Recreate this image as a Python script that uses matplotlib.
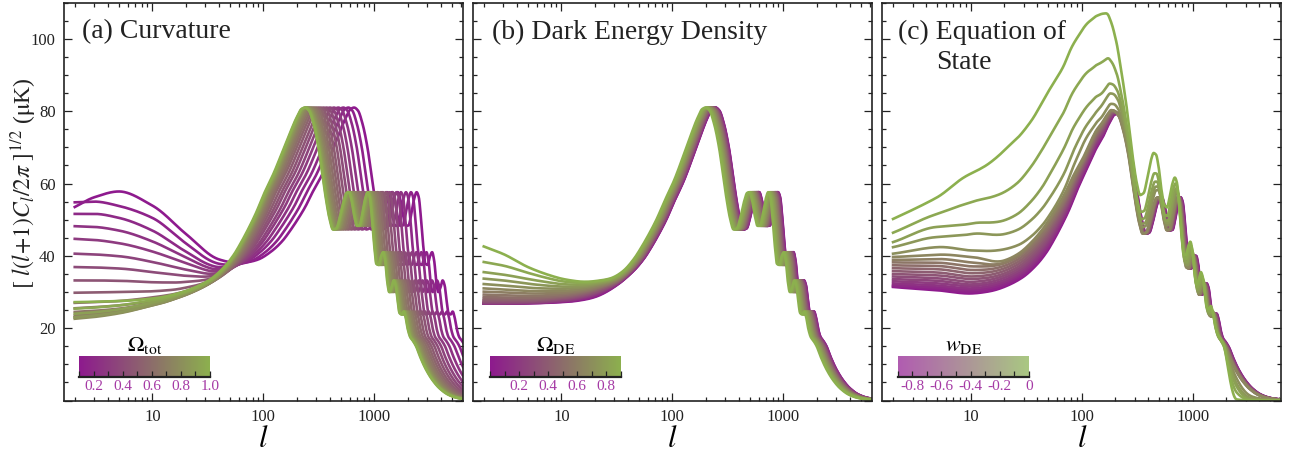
import numpy as np
import matplotlib
matplotlib.use("Agg")
import matplotlib.pyplot as plt
from matplotlib.colors import LinearSegmentedColormap
from matplotlib.ticker import LogLocator, MultipleLocator, FuncFormatter, NullFormatter

plt.rcParams['font.family'] = ['Liberation Serif', 'DejaVu Serif']
plt.rcParams['mathtext.fontset'] = 'stix'

# ---------------- data ----------------
# fiducial flat spectrum (first peak at l = 220), value in muK
template_l = [0.3, 1, 2, 5, 10, 15, 20, 30, 40, 50, 57, 70, 80, 92, 114, 139, 160, 185, 205, 220,
              238, 262, 290, 315, 340, 365, 392, 420, 455, 490, 520, 545, 575, 610, 645, 680, 720,
              765, 805, 840, 880, 925, 965, 1010, 1060, 1110, 1160, 1210, 1260, 1320, 1380, 1440,
              1500, 1560, 1630, 1700, 1770, 1850, 1950, 2050, 2200, 2400, 2700, 3100, 3600, 4300,
              5200, 6500, 9000, 30000]
template_v = [27.0, 27.0, 27.0, 27.2, 27.8, 28.8, 30.0, 32.6, 35.8, 39.3, 42.0, 46.8, 50.3, 54.6, 60.8,
              67.8, 73.0, 78.0, 80.6, 81.0, 80.2, 76.5, 70.0, 62.5, 55.5, 50.3, 47.3, 47.6, 51.0, 55.2,
              57.4, 57.6, 55.5, 51.0, 48.3, 48.4, 51.5, 55.8, 57.6, 56.3, 50.5, 42.5, 37.8, 37.5, 39.8,
              41.0, 38.5, 32.8, 30.0, 31.2, 33.2, 31.8, 27.5, 24.2, 23.8, 24.6, 23.0, 19.8, 17.5, 16.6,
              15.0, 12.0, 8.6, 5.6, 3.3, 1.6, 0.7, 0.28, 0.1, 0.03]

# (a) curvature
omega_tot = [0.10, 0.15, 0.20, 0.25, 0.30, 0.35, 0.40, 0.45, 0.50, 0.55, 0.60, 0.65, 0.70,
             0.75, 0.80, 0.85, 0.90, 0.95, 1.00]
peak_l_a = [658, 585, 527, 475, 434, 400, 372, 348, 327, 310, 295, 282, 271, 262, 255, 249, 244, 240, 238]
nodes_a = [2, 3, 5, 10, 20, 40, 100]
low_a = [
    [53.5, 56.2, 57.8, 53.9, 46.1, 39.0, 39.7],
    [54.8, 55.0, 53.8, 50.5, 43.5, 37.8, 40.6],
    [51.6, 51.6, 50.5, 47.0, 41.2, 36.9, 41.8],
    [48.2, 48.0, 47.0, 44.0, 39.6, 36.3, 42.9],
    [44.7, 44.4, 43.5, 41.2, 38.0, 35.8, 44.1],
    [40.6, 40.4, 39.9, 38.3, 36.2, 35.3, 45.2],
    [36.9, 36.8, 36.5, 35.5, 34.5, 34.9, 46.6],
    [33.2, 33.2, 33.1, 32.7, 32.8, 34.5, 47.7],
    [29.8, 29.9, 30.0, 30.2, 31.2, 34.2, 48.9],
    [27.0, 27.2, 27.5, 28.5, 30.2, 34.0, 50.1],
    [25.5, 25.8, 26.3, 27.5, 29.6, 34.0, 51.1],
    [24.5, 24.8, 25.4, 26.9, 29.4, 34.1, 52.1],
    [23.5, 23.9, 24.7, 26.5, 29.2, 34.2, 53.0],
    [23.0, 23.4, 24.3, 26.3, 29.2, 34.4, 53.8],
    [22.6, 23.1, 24.1, 26.3, 29.3, 34.6, 54.5],
    [23.0, 23.5, 24.4, 26.6, 29.5, 34.8, 55.1],
    [24.0, 24.4, 25.2, 27.1, 29.8, 35.0, 55.7],
    [25.4, 25.7, 26.3, 27.7, 30.0, 35.2, 56.2],
    [27.2, 27.3, 27.5, 28.2, 30.3, 35.5, 56.7],
]

# (b) dark energy density
omega_de = [0.00, 0.05, 0.10, 0.15, 0.20, 0.25, 0.30, 0.35, 0.40, 0.45, 0.50, 0.55, 0.60,
            0.65, 0.70, 0.75, 0.80, 0.85, 0.90]
peak_l_b = [245, 244, 243, 241, 239, 237, 235, 233, 231, 229, 226, 224, 221, 218, 215, 212, 208, 204, 200]
nodes_b = [2, 3, 5, 10, 20, 40, 1000]
low_b = [
    [26.8, 26.8, 26.9, 27.2, 28.6],
    [26.8, 26.8, 26.9, 27.3, 28.8],
    [26.8, 26.8, 26.9, 27.4, 29.0],
    [26.8, 26.8, 27.0, 27.5, 29.2],
    [26.9, 26.9, 27.0, 27.6, 29.4],
    [27.0, 27.0, 27.1, 27.8, 29.6],
    [27.2, 27.2, 27.3, 28.0, 29.8],
    [27.4, 27.4, 27.5, 28.2, 30.0],
    [27.7, 27.7, 27.7, 28.4, 30.3],
    [28.1, 28.0, 28.0, 28.7, 30.5],
    [28.6, 28.5, 28.4, 29.0, 30.8],
    [29.3, 29.1, 28.9, 29.4, 31.0],
    [30.1, 29.9, 29.6, 29.8, 31.3],
    [31.0, 30.7, 30.3, 30.3, 31.6],
    [32.2, 31.8, 31.2, 30.9, 31.9],
    [33.7, 33.2, 32.3, 31.5, 32.2],
    [35.5, 34.8, 33.6, 32.2, 32.5],
    [38.3, 37.3, 35.3, 33.0, 32.8],
    [42.6, 40.5, 36.9, 33.7, 33.0],
]

# (c) equation of state
w_de = [-0.90, -0.85, -0.80, -0.75, -0.70, -0.65, -0.60, -0.55, -0.50, -0.45, -0.40, -0.35,
        -0.30, -0.25, -0.20, -0.15, -0.10, -0.05, 0.00]
scale_c = [0.970, 0.965, 0.960, 0.955, 0.950, 0.945, 0.940, 0.935, 0.930, 0.925, 0.920, 0.915,
           0.910, 0.905, 0.900, 0.890, 0.880, 0.870, 0.860]
peak_h_c = [79.0] * 14 + [79.7, 82.9, 85.8, 94.1, 107.0]
nodes_c = [2, 5, 10, 20, 40, 70, 100, 130, 160, 250, 400, 700, 1000, 1900, 2500, 3500, 6000]
vals_c = [
    [31.4, 30.5, 29.6, 31.4, 37.8, 50.0, 61.0, 68.6, 73.7],
    [31.6, 30.9, 30.0, 31.8, 38.2, 50.4, 61.4, 69.0, 74.0],
    [31.9, 31.3, 30.5, 32.3, 38.7, 50.8, 61.8, 69.4, 74.3],
    [32.4, 31.8, 31.0, 32.8, 39.2, 51.2, 62.2, 69.8, 74.6],
    [33.0, 32.4, 31.6, 33.3, 39.8, 51.7, 62.6, 70.2, 74.9],
    [33.6, 33.1, 32.1, 33.9, 40.4, 52.2, 63.0, 70.6, 75.3],
    [34.3, 33.8, 32.8, 34.5, 41.0, 52.7, 63.4, 71.0, 75.6],
    [35.0, 34.6, 33.6, 35.1, 41.7, 53.2, 63.8, 71.3, 75.9],
    [35.8, 35.4, 34.3, 35.8, 42.4, 53.8, 64.2, 71.7, 76.2],
    [36.6, 36.3, 35.2, 36.5, 43.1, 54.4, 64.6, 72.1, 76.5],
    [37.4, 37.2, 36.1, 37.2, 43.8, 55.0, 65.0, 72.5, 76.8],
    [38.2, 38.1, 37.1, 37.9, 44.5, 55.6, 65.4, 72.9, 77.2],
    [38.9, 39.1, 38.2, 38.1, 45.2, 56.3, 65.8, 73.3, 77.5],
    [39.7, 40.3, 39.7, 38.7, 45.6, 57.0, 66.3, 73.7, 77.8],
    [40.6, 42.4, 41.5, 41.8, 47.0, 58.5, 70.0, 76.0, 79.5, 73.0, 50.5, 56.6, 41.0, 16.0, 6.0, 1.0, 0.1],
    [42.4, 45.2, 46.0, 46.0, 51.6, 63.0, 73.7, 79.0, 82.7, 74.5, 52.0, 57.5, 40.5, 15.6, 4.6, 0.5, 0.05],
    [43.8, 48.0, 48.9, 49.8, 57.2, 70.0, 79.2, 83.5, 85.8, 75.8, 54.0, 58.5, 40.8, 15.4, 3.8, 0.2, 0.02],
    [46.4, 51.6, 54.8, 57.6, 67.3, 80.1, 88.9, 92.3, 94.0, 77.8, 56.8, 60.0, 41.0, 15.2, 2.2, 0.1, 0.01],
    [50.2, 56.2, 62.7, 69.1, 80.1, 93.0, 102.2, 105.9, 107.0, 82.9, 63.0, 61.5, 41.0, 15.5, 0.3, 0.03, 0.005],
]

# ---------------- helpers ----------------
def pchip(x, y, xq):
    x = np.asarray(x, float); y = np.asarray(y, float); xq = np.clip(np.asarray(xq, float), x[0], x[-1])
    h = np.diff(x); d = np.diff(y) / h
    n = len(x)
    m = np.zeros(n)
    m[0], m[-1] = d[0], d[-1]
    for k in range(1, n - 1):
        if d[k - 1] * d[k] > 0:
            w1 = 2 * h[k] + h[k - 1]; w2 = h[k] + 2 * h[k - 1]
            m[k] = (w1 + w2) / (w1 / d[k - 1] + w2 / d[k])
    i = np.clip(np.searchsorted(x, xq) - 1, 0, n - 2)
    t = (xq - x[i]) / h[i]
    h00 = 2 * t**3 - 3 * t**2 + 1; h10 = t**3 - 2 * t**2 + t
    h01 = -2 * t**3 + 3 * t**2; h11 = t**3 - t**2
    return h00 * y[i] + h10 * h[i] * m[i] + h01 * y[i + 1] + h11 * h[i] * m[i + 1]

LT = np.log10(template_l)
def template(l):
    return pchip(LT, template_v, np.log10(l))

def curve(ell, s, nodes, targets, amp=1.0):
    nodes = np.asarray(nodes, float)
    t = np.full(len(nodes), np.nan)
    t[:len(targets)] = targets
    ref = template(nodes / s)
    ratio = np.where(np.isnan(t), amp, t / ref)
    R = pchip(np.log10(nodes), ratio, np.log10(ell))
    return template(ell / s) * R

ell = np.logspace(np.log10(2), np.log10(6300), 1600)

PURPLE = '#8e1a8e'
GREEN = '#8cb04e'
cmap = LinearSegmentedColormap.from_list('pg', [PURPLE, GREEN])
cmap_light = LinearSegmentedColormap.from_list('pgl', ['#b15cb1', '#a9c882'])
LABEL_PURPLE = '#a53aa5'

fig = plt.figure(figsize=(13.01, 4.54), dpi=100)
H = 454.0; W = 1301.0
bottom = 1 - 400.5 / H
height = (400.5 - 2.7) / H
lefts = [64 / W, 473 / W, 882.3 / W]
width = 399 / W
axs = [fig.add_axes([l, bottom, width, height]) for l in lefts]

def style(ax, ylabels):
    ax.set_xscale('log')
    ax.set_xlim(1.6, 6300)
    ax.set_ylim(0, 110)
    ax.xaxis.set_major_locator(LogLocator(base=10, numticks=10))
    ax.xaxis.set_minor_locator(LogLocator(base=10, subs=np.arange(2, 10), numticks=20))
    ax.xaxis.set_major_formatter(FuncFormatter(lambda v, p: f'{int(round(v))}'))
    ax.xaxis.set_minor_formatter(NullFormatter())
    ax.yaxis.set_major_locator(MultipleLocator(20))
    ax.yaxis.set_minor_locator(MultipleLocator(5))
    ax.yaxis.set_major_formatter(FuncFormatter(lambda v, p: '' if v <= 0 else f'{int(v)}'))
    ax.tick_params(which='both', direction='in', top=True, right=True, labelsize=12,
                   colors='#222222', width=0.9)
    ax.tick_params(which='major', length=5.5, pad=6)
    ax.tick_params(which='minor', length=3)
    ax.tick_params(axis='y', labelleft=ylabels)
    for sp in ax.spines.values():
        sp.set_linewidth(1.2)
        sp.set_color('#222222')
    ax.text(0.5, -0.097, '$l$', transform=ax.transAxes, ha='center', va='center', fontsize=22)

def colorbar(ax, cm, vmin, vmax, label, ticks, ticklabels, x0):
    cax = ax.inset_axes([x0, 0.059, 0.328, 0.053])
    grad = np.linspace(vmin, vmax, 256)[None, :]
    cax.imshow(grad, extent=[vmin, vmax, 0, 1], aspect='auto', cmap=cm, vmin=vmin, vmax=vmax)
    cax.set_xlim(vmin, vmax); cax.set_ylim(0, 1)
    for k in ('top', 'left', 'right'):
        cax.spines[k].set_visible(False)
    cax.spines['bottom'].set_linewidth(1.6)
    cax.spines['bottom'].set_color('#222222')
    cax.set_yticks([])
    cax.set_xticks(ticks)
    cax.set_xticklabels(ticklabels)
    minor = np.round(np.arange(vmin, vmax + 1e-9, 0.1), 2)
    cax.set_xticks(minor, minor=True)
    cax.tick_params(which='both', direction='in', length=4, width=0.9, color='#222222',
                    labelcolor=LABEL_PURPLE, labelsize=11, pad=2)
    cax.set_title(label, fontsize=16, pad=0)

# ---- panel a ----
ax = axs[0]
norm_a = (np.array(omega_tot) - 0.1) / 0.9
for i in range(len(omega_tot)):
    nodes_i = nodes_a + [peak_l_a[i], 7000]
    v = curve(ell, peak_l_a[i] / 220.0, nodes_i, low_a[i])
    v = v * 81.0 / v.max()
    ax.plot(ell, v, color=cmap(norm_a[i]), lw=1.9)
style(ax, True)
ax.text(0.045, 0.958, '(a) Curvature', transform=ax.transAxes, fontsize=20, va='top', ha='left',
        color='#222222')
colorbar(ax, cmap, 0.1, 1.0, r'$\Omega_{\rm tot}$', [0.2, 0.4, 0.6, 0.8, 1.0],
         ['0.2', '0.4', '0.6', '0.8', '1.0'], 0.0376)

# ---- panel b ----
ax = axs[1]
norm_b = np.array(omega_de) / 0.9
for i in range(len(omega_de)):
    v = curve(ell, peak_l_b[i] / 220.0, nodes_b, low_b[i])
    v = v * 81.0 / v.max()
    ax.plot(ell, v, color=cmap(norm_b[i]), lw=1.9)
style(ax, False)
ax.text(0.047, 0.958, '(b) Dark Energy Density', transform=ax.transAxes, fontsize=20, va='top',
        ha='left', color='#222222')
colorbar(ax, cmap, 0.0, 0.9, r'$\Omega_{\rm DE}$', [0.2, 0.4, 0.6, 0.8],
         ['0.2', '0.4', '0.6', '0.8'], 0.0427)

# ---- panel c ----
ax = axs[2]
norm_c = (np.array(w_de) + 0.9) / 0.9
for i in range(len(w_de)):
    v = curve(ell, scale_c[i], nodes_c, vals_c[i], amp=peak_h_c[i] / 81.0)
    ax.plot(ell, np.clip(v, 0, None), color=cmap(norm_c[i]), lw=1.9)
style(ax, False)
ax.text(0.040, 0.958, '(c) Equation of', transform=ax.transAxes, fontsize=20, va='top', ha='left',
        color='#222222')
ax.text(0.136, 0.882, 'State', transform=ax.transAxes, fontsize=20, va='top', ha='left',
        color='#222222')
colorbar(ax, cmap_light, -0.9, 0.0, r'$w_{\rm DE}$', [-0.8, -0.6, -0.4, -0.2, 0.0],
         ['-0.8', '-0.6', '-0.4', '-0.2', '0'], 0.039)

fig.text(0.018, 0.597, r'$[\ l(l\!+\!1)C_l/2\pi\ ]^{1/2}$ ($\mathrm{\mu}$K)', rotation=90,
         ha='center', va='center', fontsize=17, color='#222222')

fig.savefig('out.png', dpi=100)
